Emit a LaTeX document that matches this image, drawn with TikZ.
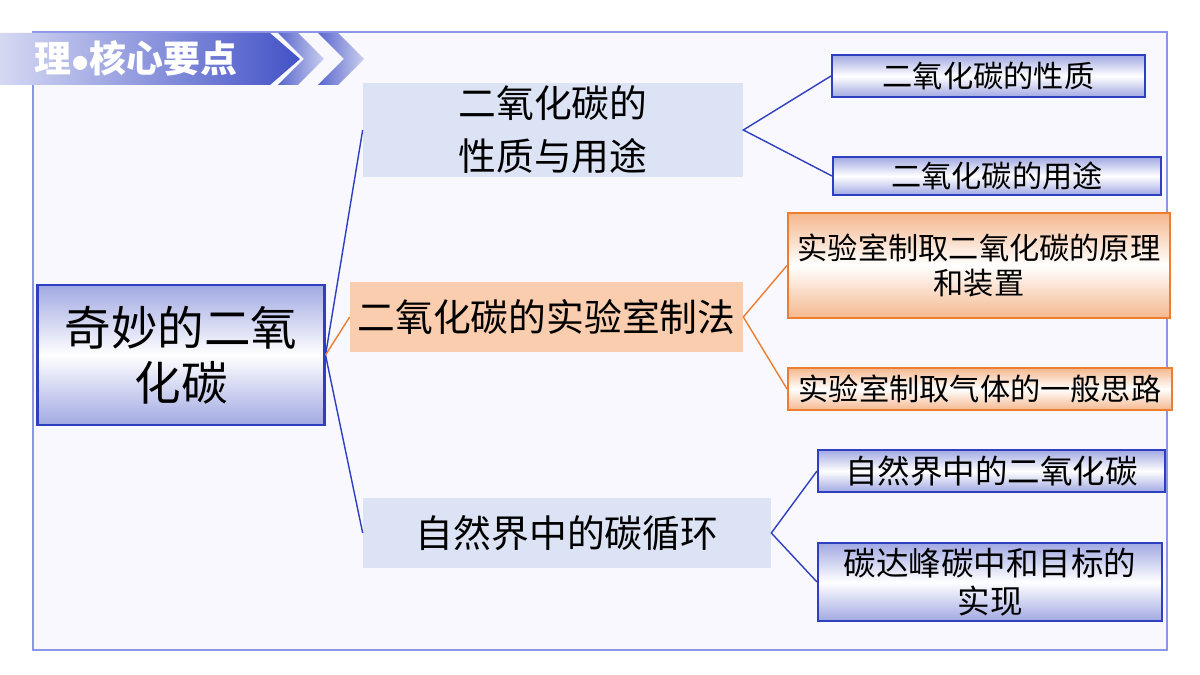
\documentclass[tikz,border=0pt]{standalone}
\usepackage{fontspec}
\setmainfont{Noto Sans CJK SC}
\usetikzlibrary{positioning}
\definecolor{frameblue}{HTML}{8C96E6}
\definecolor{boxblue}{HTML}{2E3FC0}
\definecolor{boxorange}{HTML}{ED7D31}
\definecolor{midblue}{HTML}{DCE3F4}
\definecolor{midorange}{HTML}{F9CDAE}
\definecolor{bgpage}{HTML}{F8F8FE}
\tikzset{
	bluebox/.style={draw=boxblue,line width=1.2pt,top color=boxblue!45,bottom color=boxblue!45,middle color=white,align=center,inner sep=0pt},
	orangebox/.style={draw=boxorange,line width=1.2pt,top color=boxorange!55,bottom color=boxorange!55,middle color=white,align=center,inner sep=0pt},
	midbox/.style={fill=#1,align=center,inner sep=0pt,font=\fontsize{21.5}{30}\selectfont},
	leaf/.style={font=\fontsize{17.2}{20}\selectfont},
	bluelink/.style={draw=boxblue,line width=0.8pt},
	orangelink/.style={draw=boxorange,line width=0.8pt}
}
\begin{document}
\begin{tikzpicture}[x=0.02cm,y=-0.02cm]
	\useasboundingbox (0,0) rectangle (1200,675);
	\fill[white] (0,0) rectangle (1200,675);
	\fill[bgpage] (33,32) rectangle (1167,650);
	\draw[frameblue,line width=1.2pt] (33,32) rectangle (1167,650);
	% banner
	\shade[left color=boxblue!20,right color=boxblue!90] (0,33) -- (270,33) -- (300,59) -- (270,85) -- (0,85) -- cycle;
	\foreach \i in {0,1}{
		\shade[left color=boxblue!80,right color=boxblue!25] (278+40*\i,33) -- (298+40*\i,33) -- (324+40*\i,59) -- (298+40*\i,85) -- (278+40*\i,85) -- (304+40*\i,59) -- cycle;
	}
	\node[white,font=\fontsize{21}{24}\selectfont\bfseries] (title) at (136,58) {理$\bullet$核心要点};
	% root
	\node[bluebox,minimum width=5.74cm,minimum height=2.8cm,font=\fontsize{26.5}{31}\selectfont] (root) at (181,355) {奇妙的二氧\\化碳};
	% middle level
	\node[midbox=midblue,minimum width=7.6cm,minimum height=1.88cm] (prop) at (553,130) {二氧化碳的\\性质与用途};
	\node[midbox=midorange,minimum width=7.86cm,minimum height=1.4cm] (lab) at (546.5,317) {二氧化碳的实验室制法};
	\node[midbox=midblue,minimum width=8.16cm,minimum height=1.42cm] (cycle) at (567,533) {自然界中的碳循环};
	% leaves
	\node[bluebox,leaf,minimum width=6.26cm,minimum height=0.84cm] (l1) at (988.5,76) {二氧化碳的性质};
	\node[bluebox,leaf,minimum width=6.56cm,minimum height=0.76cm] (l2) at (997,176) {二氧化碳的用途};
	\node[orangebox,leaf,minimum width=7.64cm,minimum height=2.1cm] (l3) at (979,265.5) {实验室制取二氧化碳的原理\\和装置};
	\node[orangebox,leaf,minimum width=7.68cm,minimum height=0.84cm] (l4) at (980,389) {实验室制取气体的一般思路};
	\node[bluebox,leaf,font=\fontsize{18.5}{22}\selectfont,minimum width=6.94cm,minimum height=0.84cm] (l5) at (991.5,471) {自然界中的二氧化碳};
	\node[bluebox,leaf,font=\fontsize{18.5}{22}\selectfont,minimum width=6.88cm,minimum height=1.56cm] (l6) at (990,582) {碳达峰碳中和目标的\\实现};
	% links
	\draw[bluelink] (root.east) -- (prop.west);
	\draw[bluelink] (root.east) -- (cycle.west);
	\draw[orangelink] (root.east) -- (lab.west);
	\draw[bluelink] (l1.west) -- (prop.east) -- (l2.west);
	\draw[orangelink] (l3.west) -- (lab.east) -- (l4.west);
	\draw[bluelink] (l5.west) -- (cycle.east) -- (l6.west);
\end{tikzpicture}
\end{document}
